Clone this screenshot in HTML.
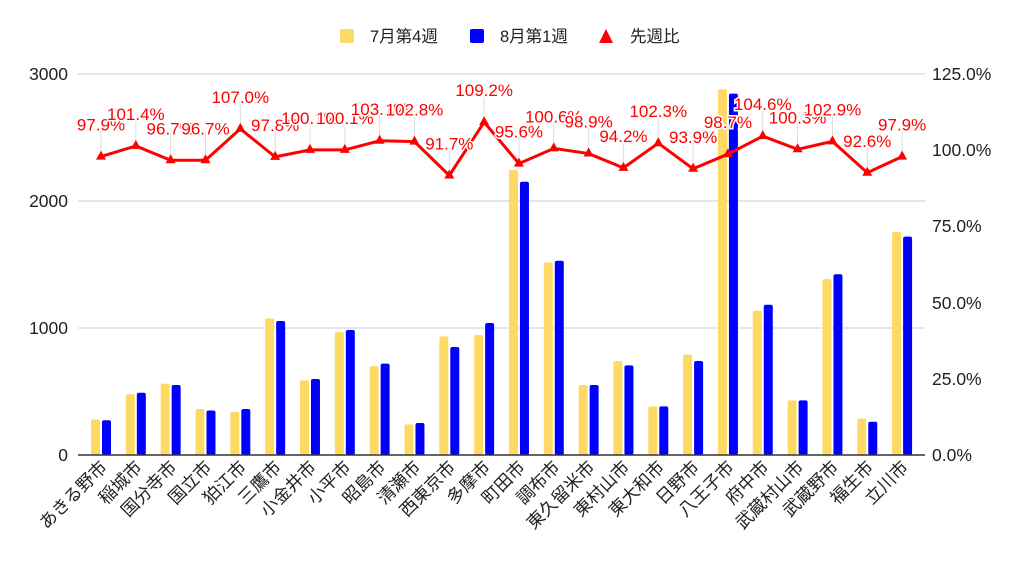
<!DOCTYPE html>
<html><head><meta charset="utf-8"><style>
body{margin:0;background:#fff}
svg{display:block;font-family:"Liberation Sans","Noto Sans CJK JP",sans-serif}
.lb{fill:#f00;font-size:17px;stroke:#fff;stroke-width:3px;paint-order:stroke;text-anchor:middle}
</style></head><body>
<svg id="s" width="1024" height="563" xmlns="http://www.w3.org/2000/svg">
<rect width="1024" height="563" fill="#fff"/>
<g stroke="#ccc" stroke-width="1">
<line x1="78" y1="74" x2="925" y2="74"/><line x1="78" y1="201" x2="925" y2="201"/><line x1="78" y1="328" x2="925" y2="328"/>
</g>
<g font-size="17.5" fill="#222" text-anchor="end">
<text x="68" y="80">3000</text><text x="68" y="207">2000</text><text x="68" y="334">1000</text><text x="68" y="461">0</text>
</g>
<g font-size="17.5" fill="#222">
<text x="932" y="80">125.0%</text><text x="932" y="156">100.0%</text><text x="932" y="232">75.0%</text><text x="932" y="309">50.0%</text><text x="932" y="385">25.0%</text><text x="932" y="461">0.0%</text>
</g>
<g font-size="16.5" fill="#222">
<rect x="340" y="29" width="14" height="14" rx="2" fill="#ffd966"/><text x="370" y="42">7月第4週</text>
<rect x="470" y="29" width="14" height="14" rx="2" fill="#0000ff"/><text x="500" y="42">8月第1週</text>
<polygon points="606,29 599,43 613,43" fill="#f00"/><text x="630" y="42">先週比</text>
</g>
<g id="bars"></g>
<line x1="78" y1="455" x2="925" y2="455" stroke="#333" stroke-width="1.5"/>
<g id="line"></g>
<g id="xl" font-size="17.5" fill="#222"></g>
</svg>
<script>
var names=["あきる野市","稲城市","国分寺市","国立市","狛江市","三鷹市","小金井市","小平市","昭島市","清瀬市","西東京市","多摩市","町田市","調布市","東久留米市","東村山市","東大和市","日野市","八王子市","府中市","武蔵村山市","武蔵野市","福生市","立川市"];
var a=[280,478,561,362,340,1076,588,968,700,241,934,945,2246,1517,551,740,383,790,2880,1136,430,1386,286,1756];
var b=[274,490,551,350,362,1055,598,984,719,252,850,1039,2152,1530,551,706,383,740,2845,1183,430,1423,262,1719];
var p=["97.9","101.4","96.7","96.7","107.0","97.8","100.1","100.1","103.1","102.8","91.7","109.2","95.6","100.6","98.9","94.2","102.3","93.9","98.7","104.6","100.3","102.9","92.6","97.9"];
var ns="http://www.w3.org/2000/svg",B=document.getElementById("bars"),L=document.getElementById("line"),X=document.getElementById("xl");
function el(t,at,par,txt){var e=document.createElementNS(ns,t);for(var k in at)e.setAttribute(k,at[k]);if(txt)e.textContent=txt;par.appendChild(e);return e;}
var pts=[];
for(var i=0;i<24;i++){var c=101+i*34.83;
var ya=455-a[i]*0.127,yb=455-b[i]*0.127;
el("rect",{x:c-10,y:ya,width:9,height:455-ya,rx:2,fill:"#ffd966"},B);
el("rect",{x:c+1,y:yb,width:9,height:455-yb,rx:2,fill:"#0000ff"},B);
var yp=455-parseFloat(p[i])*3.048;pts.push(c+","+yp);
el("line",{x1:c,y1:yp,x2:c,y2:yp-28,stroke:"#ddd","stroke-width":1},L);
el("text",{x:c+3,y:470,transform:"rotate(-45 "+(c+3)+" 464)","text-anchor":"end"},X,names[i]);
}
el("polyline",{points:pts.join(" "),fill:"none",stroke:"#f00","stroke-width":3},L);
for(var i=0;i<24;i++){var c=101+i*34.83,yp=455-parseFloat(p[i])*3.048;
el("polygon",{points:c+","+(yp-6)+" "+(c-5)+","+(yp+3)+" "+(c+5)+","+(yp+3),fill:"#f00"},L);}
for(var i=0;i<24;i++){var c=101+i*34.83,yp=455-parseFloat(p[i])*3.048;
el("text",{x:c,y:yp-26,"class":"lb"},L,p[i]+"%");}
</script>
</body></html>
